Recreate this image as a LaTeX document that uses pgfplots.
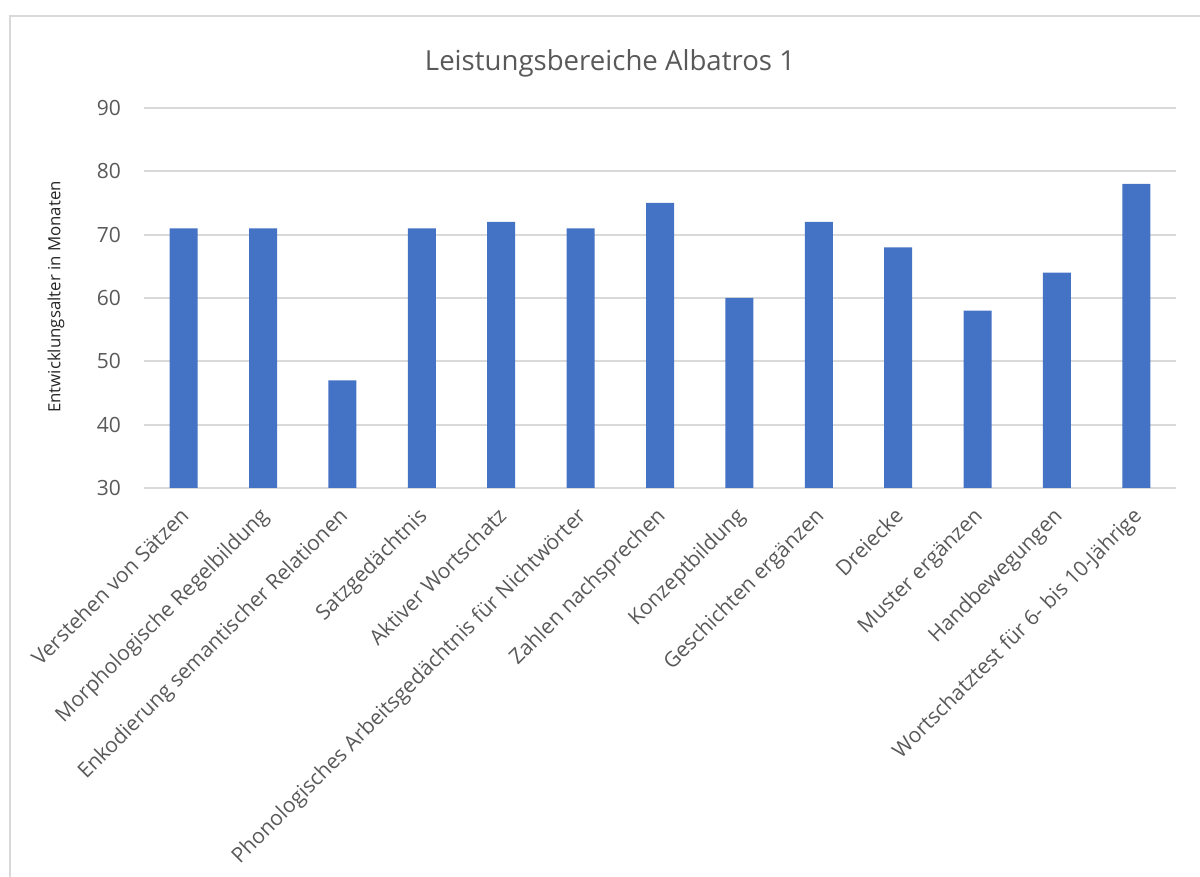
\documentclass[border=0pt]{standalone}
\usepackage{pgfplots}
\pgfplotsset{compat=1.18}
\usepackage{fontspec}
\setmainfont{Open Sans}
\definecolor{barblue}{HTML}{4472C4}
\definecolor{gridgray}{HTML}{D9D9D9}
\definecolor{txt}{HTML}{595959}
\begin{document}
\begin{tikzpicture}
\path[use as bounding box] (0,0) rectangle (600pt,438.5pt);
\draw[gridgray, line width=1pt] (5pt,0pt) -- (5pt,430.5pt) -- (600pt,430.5pt);
\node[text=txt, font=\fontsize{13.8}{16}\selectfont] at (305pt,407pt) {Leistungsbereiche Albatros 1};
\node[text=black!85, rotate=90, font=\fontsize{8.4}{10}\selectfont] at (28pt,290pt) {Entwicklungsalter in Monaten};
\begin{axis}[
  at={(72pt,194.5pt)}, anchor=south west,
  width=516pt, height=190pt, scale only axis,
  xmin=-0.5, xmax=12.5, ymin=30, ymax=90,
  ytick={30,40,...,90},
  xtick={0,...,12},
  xticklabels={Verstehen von Sätzen, Morphologische Regelbildung, Enkodierung semantischer Relationen, Satzgedächtnis, Aktiver Wortschatz, Phonologisches Arbeitsgedächtnis für Nichtwörter, Zahlen nachsprechen, Konzeptbildung, Geschichten ergänzen, Dreiecke, Muster ergänzen, Handbewegungen, Wortschatztest für 6- bis 10-Jährige},
  x tick label style={yshift=-6pt, xshift=-2.5pt, rotate=45, anchor=north east, font=\fontsize{10.5}{12}\selectfont, text=txt, inner sep=2pt},
  y tick label style={font=\fontsize{10.5}{12}\selectfont, text=txt, xshift=-8pt},
  /pgf/number format/assume math mode=true,
  major tick length=0pt,
  axis line style={draw=none},
  ymajorgrids, grid style={gridgray, line width=1pt},
  ybar, bar width=14pt,
]
\addplot[fill=barblue, draw=none] coordinates {
(0,71) (1,71) (2,47) (3,71) (4,72) (5,71) (6,75) (7,60) (8,72) (9,68) (10,58) (11,64) (12,78)
};
\end{axis}
\end{tikzpicture}
\end{document}
